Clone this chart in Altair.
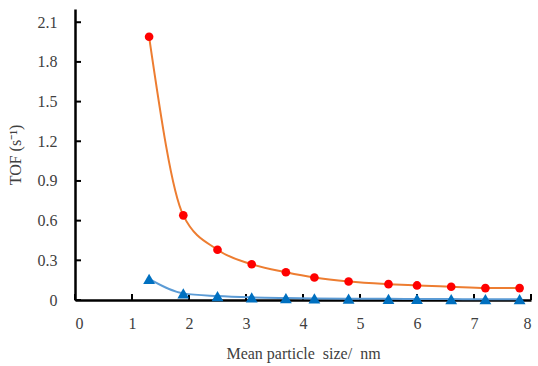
import altair as alt
import pandas as pd

sizes = [1.3, 1.9, 2.5, 3.1, 3.7, 4.2, 4.8, 5.5, 6.0, 6.6, 7.2, 7.8]
tof_red = [1.99, 0.64, 0.38, 0.27, 0.21, 0.17, 0.14, 0.12, 0.11, 0.10, 0.09, 0.09]
tof_blue = [0.16, 0.05, 0.03, 0.02, 0.015, 0.012, 0.01, 0.009, 0.008, 0.007, 0.006, 0.006]
x_ticks = [0, 1, 2, 3, 4, 5, 6, 7, 8]
y_ticks = [0, 0.3, 0.6, 0.9, 1.2, 1.5, 1.8, 2.1]

df = pd.DataFrame({"size": sizes, "red": tof_red, "blue": tof_blue})
xt = pd.DataFrame({"t": x_ticks})
yt = pd.DataFrame({"t": y_ticks})

FONT = "Liberation Serif"
LABEL = "#404040"

xscale = alt.Scale(domain=[0, 8], nice=False, zero=False)
yscale = alt.Scale(domain=[0, 2.2], nice=False)

xaxis = alt.Axis(values=x_ticks, format="d", labelPadding=15,
                 title="Mean particle \u00a0size/ \u00a0nm", titlePadding=14)
yaxis = alt.Axis(values=y_ticks, labelPadding=18,
                 labelExpr="datum.value == 0 ? '0' : format(datum.value, '.1f')",
                 title="TOF (s⁻¹)", titlePadding=14)

base = alt.Chart(df)

x_rules = alt.Chart(xt).mark_rule(color="black", strokeWidth=2, y2Offset=-6).encode(
    x=alt.X("t:Q", scale=xscale, axis=xaxis),
    y=alt.datum(0, scale=yscale),
    y2=alt.datum(0),
)
y_rules = alt.Chart(yt).mark_rule(color="black", strokeWidth=2, x2Offset=6).encode(
    y=alt.Y("t:Q", scale=yscale, axis=yaxis),
    x=alt.datum(0, scale=xscale),
    x2=alt.datum(0),
)

red_line = base.mark_line(color="#ED7D31", strokeWidth=2, interpolate="monotone").encode(
    x=alt.X("size:Q", scale=xscale), y=alt.Y("red:Q", scale=yscale))
blue_line = base.mark_line(color="#5B9BD5", strokeWidth=2, interpolate="monotone").encode(
    x=alt.X("size:Q", scale=xscale), y=alt.Y("blue:Q", scale=yscale))
red_pts = base.mark_point(shape="circle", filled=True, color="#FF0000", size=75, opacity=1).encode(
    x=alt.X("size:Q", scale=xscale), y=alt.Y("red:Q", scale=yscale))
blue_pts = base.mark_point(shape="triangle-up", filled=True, color="#0070C0", size=140, opacity=1).encode(
    x=alt.X("size:Q", scale=xscale), y=alt.Y("blue:Q", scale=yscale))

chart = alt.layer(x_rules, y_rules, red_line, blue_line, red_pts, blue_pts).properties(
    width=456, height=291,
    autosize=alt.AutoSizeParams(type="none"),
    padding={"left": 75, "top": 9, "right": 7, "bottom": 66},
    background="white",
).configure(font=FONT).configure_view(stroke=None).configure_axis(
    ticks=False, grid=False, domainColor="black", domainWidth=2.5,
    labelFont=FONT, labelFontSize=16, labelColor=LABEL,
    titleFont=FONT, titleFontSize=16, titleFontWeight="normal", titleColor=LABEL,
    zindex=0,
)

chart.save("out.html", embed_options={"renderer": "svg", "actions": False})
